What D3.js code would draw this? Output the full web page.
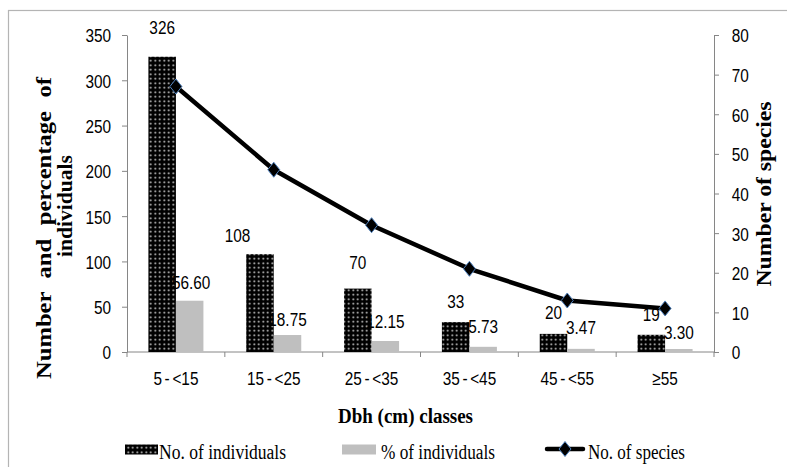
<!DOCTYPE html>
<html>
<head>
<meta charset="utf-8">
<script src="https://cdn.jsdelivr.net/npm/d3@7"></script>
<style>
  body { margin: 0; background: #fff; }
  svg { display: block; }
  .num { font-family: "Liberation Sans", Arial, sans-serif; font-size: 19.2px; fill: #000; }
  .ser { font-family: "Liberation Serif", "Times New Roman", serif; fill: #000; }
</style>
</head>
<body>
<svg id="chart" width="787" height="467"></svg>
<script>
// Diameter classes and the three series plotted for each
const categories = ["5 - <15", "15 - <25", "25 - <35", "35 - <45", "45 - <55", "≥55"];
const individuals = [326, 108, 70, 33, 20, 19];
const percentIndividuals = [56.60, 18.75, 12.15, 5.73, 3.47, 3.30];
const species = [67, 46, 32, 21, 13, 11];

const leftTicks = [0, 50, 100, 150, 200, 250, 300, 350];
const rightTicks = [0, 10, 20, 30, 40, 50, 60, 70, 80];
const seriesNames = ["No. of individuals", "% of individuals", "No. of species"];

// Hand placement of the data labels (dx, baseline offset from bar top)
const countLabelNudge = [[0, -23], [-22.5, -12], [0, -19.5], [0, -14], [0, -14.5], [0, -14]];
const pctLabelNudge = [[1.5, -12], [0, -9], [0, -13], [0, -14], [0, -15], [0, -10]];

const svg = d3.select("#chart");
const plot = { left: 127, right: 714, top: 35, bottom: 352 };
const axisColor = "#868686";
const NARROW = 0.8; // horizontal squeeze for the condensed numeric face

// draws numeric text narrowed about its anchor point
function squeeze(sel) {
  sel.each(function () {
    const t = d3.select(this);
    const tx = +t.attr("x") || 0, ty = +t.attr("y") || 0;
    t.attr("x", 0).attr("y", 0)
      .attr("transform", `translate(${tx},${ty}) scale(${NARROW},1)`);
  });
}

// outer frame
svg.append("rect")
  .attr("x", 8.5).attr("y", 10.5).attr("width", 820).attr("height", 520)
  .attr("fill", "none").attr("stroke", "#b4b4b4").attr("stroke-width", 1.2);

// dotted fill for the counts
const defs = svg.append("defs");
const pat = defs.append("pattern").attr("id", "dots")
  .attr("patternUnits", "userSpaceOnUse").attr("width", 4.5).attr("height", 4.5);
pat.append("rect").attr("width", 4.5).attr("height", 4.5).attr("fill", "#000");
pat.append("circle").attr("cx", 2.25).attr("cy", 2.25).attr("r", 0.95).attr("fill", "#d8d8d8");

const x = d3.scaleBand().domain(categories)
  .range([plot.left, plot.right]).paddingInner(0.4378).paddingOuter(0.2189);
const sub = d3.scaleBand().domain([0, 1]).range([0, x.bandwidth()]);
const yL = d3.scaleLinear().domain([0, 350]).range([plot.bottom, plot.top]);
const yR = d3.scaleLinear().domain([0, 80]).range([plot.bottom, plot.top]);
const center = c => x(c) + x.bandwidth() / 2;

// left axis
const gL = svg.append("g").attr("transform", `translate(${plot.left},0)`)
  .call(d3.axisLeft(yL).tickValues(leftTicks).tickSize(5).tickSizeOuter(0).tickPadding(11));
// right axis
const gR = svg.append("g").attr("transform", `translate(${plot.right},0)`)
  .call(d3.axisRight(yR).tickValues(rightTicks).tickSize(5).tickSizeOuter(0).tickPadding(12.7));
[gL, gR].forEach(g => {
  g.attr("font-family", null).attr("font-size", null);
  g.selectAll("path, line").attr("stroke", axisColor);
  g.selectAll("text").attr("class", "num").attr("dy", "0.36em").attr("fill", "#000").call(squeeze);
});

// category axis: boundary ticks, centred labels
const gB = svg.append("g");
gB.append("line").attr("x1", plot.left).attr("x2", plot.right)
  .attr("y1", plot.bottom).attr("y2", plot.bottom).attr("stroke", axisColor);
const bounds = d3.range(categories.length + 1).map(i => plot.left + i * x.step());
gB.selectAll(".bt").data(bounds).join("line").attr("class", "bt")
  .attr("x1", d => d).attr("x2", d => d)
  .attr("y1", plot.bottom).attr("y2", plot.bottom + 5).attr("stroke", axisColor);
gB.selectAll(".cl").data(categories).join("text").attr("class", "num cl")
  .attr("x", d => center(d)).attr("y", 385).attr("text-anchor", "middle")
  .attr("word-spacing", -2).text(d => d).call(squeeze);

// bars
const bars = svg.append("g");
bars.selectAll(".bi").data(categories).join("rect").attr("class", "bi")
  .attr("x", d => x(d) + sub(0)).attr("width", sub.bandwidth())
  .attr("y", (d, i) => yL(individuals[i]))
  .attr("height", (d, i) => plot.bottom - yL(individuals[i]))
  .attr("fill", "url(#dots)");
bars.selectAll(".bp").data(categories).join("rect").attr("class", "bp")
  .attr("x", d => x(d) + sub(1)).attr("width", sub.bandwidth())
  .attr("y", (d, i) => yL(percentIndividuals[i]))
  .attr("height", (d, i) => plot.bottom - yL(percentIndividuals[i]))
  .attr("fill", "#bfbfbf");

// data labels
const labels = svg.append("g");
labels.selectAll(".li").data(categories).join("text").attr("class", "num li")
  .attr("text-anchor", "middle")
  .attr("x", (d, i) => x(d) + sub(0) + sub.bandwidth() / 2 + countLabelNudge[i][0])
  .attr("y", (d, i) => yL(individuals[i]) + countLabelNudge[i][1])
  .text((d, i) => individuals[i]).call(squeeze);
labels.selectAll(".lp").data(categories).join("text").attr("class", "num lp")
  .attr("text-anchor", "middle")
  .attr("x", (d, i) => x(d) + sub(1) + sub.bandwidth() / 2 + pctLabelNudge[i][0])
  .attr("y", (d, i) => yL(percentIndividuals[i]) + pctLabelNudge[i][1])
  .text((d, i) => percentIndividuals[i].toFixed(2)).call(squeeze);

// species line with diamond markers
const diamond = "M0,-7.5L6,0L0,7.5L-6,0Z";
const line = d3.line().x((d, i) => center(categories[i])).y(d => yR(d));
svg.append("path").datum(species).attr("d", line)
  .attr("fill", "none").attr("stroke", "#000").attr("stroke-width", 4.5)
  .attr("stroke-linejoin", "round");
svg.selectAll(".mk").data(species).join("path").attr("class", "mk")
  .attr("transform", (d, i) => `translate(${center(categories[i])},${yR(d)})`)
  .attr("d", diamond).attr("fill", "#000").attr("stroke", "#4f81bd").attr("stroke-width", 1);

// axis titles
function fitText(sel, len, mode) {
  sel.attr("textLength", len).attr("lengthAdjust", mode || "spacingAndGlyphs");
  return sel;
}
fitText(svg.append("text").attr("class", "ser")
  .attr("transform", "translate(51,228) rotate(-90)")
  .attr("text-anchor", "middle").attr("font-weight", "bold").attr("font-size", 20)
  .attr("word-spacing", 6)
  .text("Number and percentage of"), 302);
fitText(svg.append("text").attr("class", "ser")
  .attr("transform", "translate(72,206) rotate(-90)")
  .attr("text-anchor", "middle").attr("font-weight", "bold").attr("font-size", 20)
  .text("individuals"), 102);
fitText(svg.append("text").attr("class", "ser")
  .attr("transform", "translate(771,194) rotate(-90)")
  .attr("text-anchor", "middle").attr("font-weight", "bold").attr("font-size", 20)
  .text("Number of species"), 185);
fitText(svg.append("text").attr("class", "ser")
  .attr("x", 338).attr("y", 423).attr("font-weight", "bold").attr("font-size", 20)
  .text("Dbh (cm) classes"), 135);

// legend
const leg = svg.append("g");
leg.append("rect").attr("x", 125).attr("y", 444.5).attr("width", 33).attr("height", 10).attr("fill", "url(#dots)");
leg.append("rect").attr("x", 342).attr("y", 444.5).attr("width", 34).attr("height", 10).attr("fill", "#bfbfbf");
leg.append("line").attr("x1", 547).attr("x2", 583).attr("y1", 449).attr("y2", 449)
  .attr("stroke", "#000").attr("stroke-width", 4.5).attr("stroke-linecap", "round");
leg.append("path").attr("transform", "translate(565,449)").attr("d", diamond)
  .attr("fill", "#000").attr("stroke", "#4f81bd").attr("stroke-width", 1);
const legPos = [[159, 127], [381, 114], [588, 97]];
seriesNames.forEach((n, i) => {
  fitText(leg.append("text").attr("class", "ser")
    .attr("x", legPos[i][0]).attr("y", 459).attr("font-size", 20).text(n), legPos[i][1]);
});
</script>
</body>
</html>
